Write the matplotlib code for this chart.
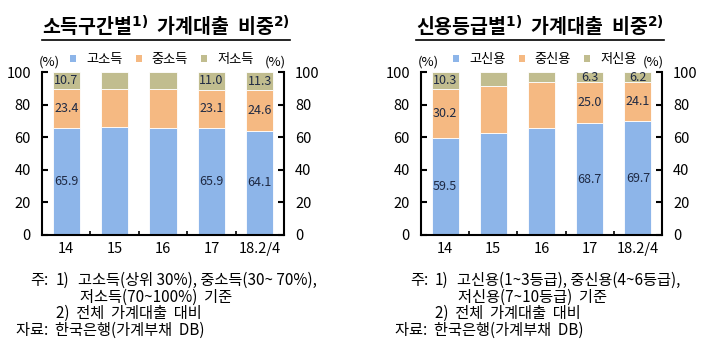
import matplotlib
matplotlib.use("Agg")
import matplotlib.pyplot as plt
from matplotlib.lines import Line2D
from matplotlib.patches import Patch
import numpy as np

plt.rcParams['font.family'] = ['Noto Sans CJK KR', 'DejaVu Sans']
plt.rcParams['mathtext.fontset'] = 'dejavusans'

# data
years = ['14', '15', '16', '17', '18.2/4']

income_labels = ['고소득', '중소득', '저소득']
income_high = [65.9, 66.2, 65.8, 65.9, 64.1]
income_mid = [23.4, 23.3, 23.5, 23.1, 24.6]
income_low = [10.7, 10.5, 10.7, 11.0, 11.3]
income_shown = [0, 3, 4]

credit_labels = ['고신용', '중신용', '저신용']
credit_high = [59.5, 62.8, 65.8, 68.7, 69.7]
credit_mid = [30.2, 28.6, 28.1, 25.0, 24.1]
credit_low = [10.3, 8.6, 6.1, 6.3, 6.2]
credit_shown = [0, 3, 4]

colors = ['#8db5e9', '#f5b982', '#c1bd8f']
W, H = 708, 353


def draw_panel(ax, high, mid, low, shown):
    x = np.arange(len(years))
    ax.bar(x, high, 0.56, color=colors[0], edgecolor='white', linewidth=0.6)
    ax.bar(x, mid, 0.56, bottom=high, color=colors[1], edgecolor='white', linewidth=0.6)
    bot = np.array(high) + np.array(mid)
    ax.bar(x, low, 0.56, bottom=bot, color=colors[2], edgecolor='white', linewidth=0.6)
    for i in shown:
        ax.text(x[i], high[i] / 2, f'{high[i]:.1f}', ha='center', va='center', fontsize=9, color='#1f2a44')
        ax.text(x[i], high[i] + mid[i] / 2, f'{mid[i]:.1f}', ha='center', va='center', fontsize=9, color='#1f2a44')
        ax.text(x[i], bot[i] + low[i] / 2, f'{low[i]:.1f}', ha='center', va='center', fontsize=9, color='#1f2a44')
    ax.set_xlim(-0.5, len(years) - 0.5)
    ax.set_ylim(0, 100)
    ax.set_yticks([0, 20, 40, 60, 80, 100])
    ax.set_xticks(x)
    ax.set_xticklabels(years, fontsize=10.5)
    ax.set_xticks(x[:-1] + 0.5, minor=True)
    ax.tick_params(axis='x', which='major', length=0, pad=5)
    ax.tick_params(axis='x', which='minor', direction='in', length=3, width=1.2)
    ax.tick_params(axis='y', direction='in', length=4, width=1.5, labelsize=10.5,
                   right=True, labelright=True, pad=8)
    ax.spines['top'].set_visible(False)
    for s in ['left', 'right', 'bottom']:
        ax.spines[s].set_linewidth(1.5)


fig = plt.figure(figsize=(W / 100, H / 100), dpi=100)
ax1 = fig.add_axes([42 / W, 118 / H, 242 / W, 163 / H])
ax2 = fig.add_axes([421 / W, 118 / H, 241 / W, 163 / H])
draw_panel(ax1, income_high, income_mid, income_low, income_shown)
draw_panel(ax2, credit_high, credit_mid, credit_low, credit_shown)


def fx(px):
    return px / W


def fy(py):
    return 1 - py / H


titles = [('소득구간별$^{\\mathbf{1)}}$  가계대출  비중$^{\\mathbf{2)}}$', 166),
          ('신용등급별$^{\\mathbf{1)}}$  가계대출  비중$^{\\mathbf{2)}}$', 540)]
title_objs = []
for t, cx in titles:
    title_objs.append(fig.text(fx(cx), fy(26), t, ha='center', va='center', fontsize=14, fontweight='bold'))

# legends
for labels, cx in [(income_labels, 162), (credit_labels, 545)]:
    handles = [Patch(facecolor=c, edgecolor='none') for c in colors]
    fig.legend(handles, labels, loc='center', bbox_to_anchor=(fx(cx), fy(60)), ncol=3,
               frameon=False, fontsize=9.5, handlelength=0.45, handleheight=0.45,
               handletextpad=0.75, columnspacing=1.0, borderpad=0)

# (%) labels
for cx in [49, 275, 428, 653]:
    fig.text(fx(cx), fy(62), '(%)', ha='center', va='center', fontsize=9.5)

# notes
fs = 11
fig.text(fx(30), fy(280), '주:', fontsize=fs, va='center')
fig.text(fx(56), fy(280), '1)', fontsize=fs, va='center')
fig.text(fx(78), fy(280), '고소득(상위 30%), 중소득(30~ 70%),', fontsize=fs, va='center')
fig.text(fx(80), fy(297), '저소득(70~100%)  기준', fontsize=fs, va='center')
fig.text(fx(56), fy(313), '2)  전체  가계대출  대비', fontsize=fs, va='center')
fig.text(fx(16), fy(330), '자료:  한국은행(가계부채  DB)', fontsize=fs, va='center')

fig.text(fx(410), fy(280), '주:', fontsize=fs, va='center')
fig.text(fx(435), fy(280), '1)', fontsize=fs, va='center')
fig.text(fx(457), fy(280), '고신용(1~3등급), 중신용(4~6등급),', fontsize=fs, va='center')
fig.text(fx(458), fy(297), '저신용(7~10등급)  기준', fontsize=fs, va='center')
fig.text(fx(435), fy(313), '2)  전체  가계대출  대비', fontsize=fs, va='center')
fig.text(fx(395), fy(330), '자료:  한국은행(가계부채  DB)', fontsize=fs, va='center')

# underline titles
fig.canvas.draw()
r = fig.canvas.get_renderer()
for t in title_objs:
    bb = t.get_window_extent(r)
    y = bb.y0 - 1
    fig.add_artist(Line2D([bb.x0 / W, bb.x1 / W], [y / H, y / H], color='black', linewidth=1.2))

fig.savefig('out.png', dpi=100)
